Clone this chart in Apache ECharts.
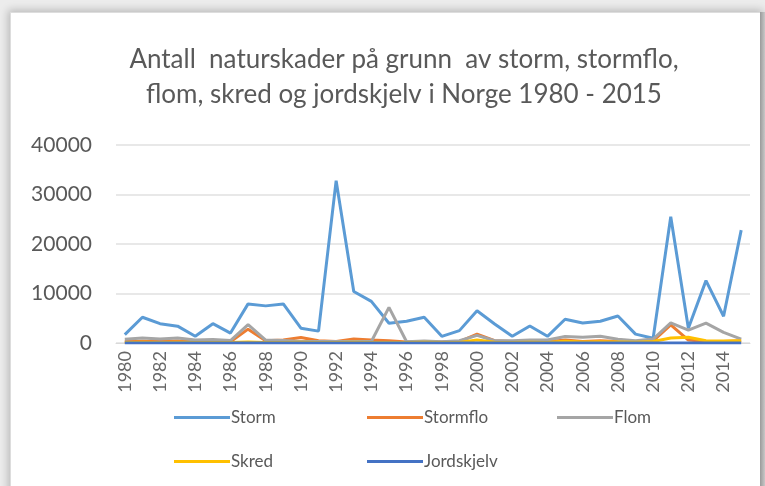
<!DOCTYPE html>
<html>
<head>
<meta charset="utf-8">
<script src="https://cdn.jsdelivr.net/npm/echarts@6/dist/echarts.min.js"></script>
<style>
html,body{margin:0;padding:0;width:765px;height:486px;overflow:hidden;background:#ececec;}
#card{position:absolute;left:10px;top:12px;width:750px;height:490px;background:#fff;box-shadow:0 0 8px 2px rgba(0,0,0,0.22);border-left:1px solid #ddd;border-top:1px solid #ddd;}
#edge{position:absolute;left:760px;top:12px;width:5px;height:480px;background:linear-gradient(to right,#9a9a9a,#c8c8c8);}
#chart{position:absolute;left:0;top:0;width:765px;height:486px;}
</style>
</head>
<body>
<div id="card"></div>
<div id="edge"></div>
<div id="chart"></div>
<script>
const years = [];
for (let y = 1980; y <= 2015; y++) years.push(String(y));

const storm = [1700,5200,3900,3400,1350,3900,2000,7900,7500,7900,3000,2400,32800,10400,8400,4000,4400,5200,1350,2500,6500,3850,1350,3450,1350,4800,4050,4400,5450,1800,950,25500,3000,12600,5400,22800];
const stormflo = [300,350,300,400,250,300,250,2800,450,600,1100,450,300,800,600,450,200,250,200,300,1800,450,300,300,250,600,300,450,300,250,450,3650,600,300,300,450];
const flom = [750,1000,800,1000,600,700,500,3700,600,500,300,300,300,300,300,7200,250,400,250,450,1550,450,450,600,600,1300,1150,1350,750,450,800,4050,2600,4000,2150,800];
const skred = [100,150,100,150,100,100,100,200,100,100,150,100,100,150,100,100,100,150,100,100,600,150,100,150,100,350,200,250,200,150,300,1000,1150,450,400,450];
const jordskjelv = [10,10,10,10,10,10,10,10,10,10,10,10,10,10,10,10,10,10,10,10,10,10,10,10,10,10,10,10,10,10,10,10,10,10,10,10];

const names = ['Storm','Stormflo','Flom','Skred','Jordskjelv'];
const colors = ['#5B9BD5','#ED7D31','#A5A5A5','#FFC000','#4472C4'];
const values = [storm, stormflo, flom, skred, jordskjelv];

const chart = echarts.init(document.getElementById('chart'));
const txt = '#595959';
const font = 'Lato, "Open Sans", sans-serif';

const legendPos = [[169,404],[362,404],[552,404],[169,448],[362,448]];
const legends = names.map((n,i)=>({
  data:[n], left:legendPos[i][0], top:legendPos[i][1],
  icon:'rect', itemWidth:56, itemHeight:3, itemGap:0,
  selectedMode:false,
  textStyle:{color:txt, fontSize:17, fontFamily:font, padding:[0,0,0,-4]}
}));

chart.setOption({
  animation:false,
  color:colors,
  title:{
    text:'Antall  naturskader på grunn  av storm, stormflo,\nflom, skred og jordskjelv i Norge 1980 - 2015',
    left:399, top:37, textAlign:'center',
    textStyle:{color:txt, fontSize:26, fontWeight:'normal', fontFamily:font, lineHeight:35}
  },
  legend:legends,
  grid:{left:116, right:15, top:145, bottom:143, containLabel:false},
  xAxis:{
    type:'category', data:years, boundaryGap:true,
    axisLine:{lineStyle:{color:'#d9d9d9', width:1}},
    axisTick:{show:false},
    axisLabel:{rotate:90, interval:1, color:'#666', fontSize:18, fontFamily:font, margin:8}
  },
  yAxis:{
    type:'value', min:0, max:40000, interval:10000,
    axisLine:{show:false}, axisTick:{show:false},
    splitLine:{lineStyle:{color:'#e0e0e0', width:1.5}},
    axisLabel:{color:txt, fontSize:21, fontFamily:font, margin:24,
      formatter:v=>String(v)}
  },
  series:names.map((n,i)=>({
    name:n, type:'line', data:values[i], symbol:'none',
    lineStyle:{width:3, color:colors[i]}, itemStyle:{color:colors[i]}
  }))
});
</script>
</body>
</html>
